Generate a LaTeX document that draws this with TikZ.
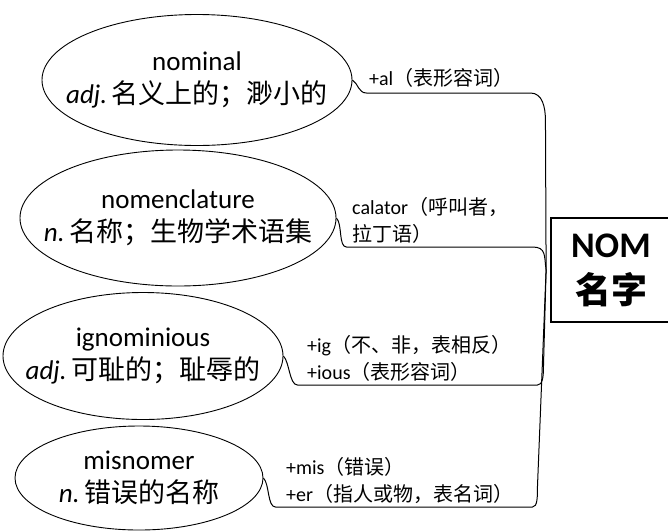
\documentclass[tikz,border=0pt]{standalone}
\usepackage{fontspec}
\setmainfont{Carlito}
\newfontfamily\cjk{Noto Sans CJK SC}
\usetikzlibrary{shapes.geometric}
\tikzset{
    wordnode/.style={ellipse, draw, line width=0.9pt, inner sep=0pt},
    wordtext/.style={align=center, inner sep=0pt, font=\fontsize{27}{33}\selectfont},
    rootbox/.style={rectangle, draw, line width=1.8pt, inner sep=0pt, align=center, font=\bfseries\fontsize{36}{46}\selectfont},
    partnote/.style={anchor=west, align=left, inner sep=0pt, font=\fontsize{20}{27}\selectfont},
    branch/.style={line width=1pt, line join=round},
}

\begin{document}
\begin{tikzpicture}[x=1pt, y=-1pt]
    \useasboundingbox (0,0) rectangle (668,531);

    % Radice (a destra)
    \node[rootbox, minimum width=120, minimum height=104] (root) at (611,270) {NOM\\{\cjk 名字}};
    \coordinate (hub) at ([xshift=-4pt]root.west);

    % Parole (ellissi)
    \node[wordnode, minimum width=310, minimum height=131] (nominal) at (197,80) {};
    \node[wordtext] (nominalTxt) at (nominal) {nominal\\\textit{adj.}\,{\cjk 名义上的；渺小的}};

    \node[wordnode, minimum width=316, minimum height=136] (nomencl) at (178,218) {};
    \node[wordtext] (nomenclTxt) at (nomencl) {nomenclature\\\textit{n.}\,{\cjk 名称；生物学术语集}};

    \node[wordnode, minimum width=280, minimum height=127] (ignomin) at (143,356) {};
    \node[wordtext] (ignominTxt) at (ignomin) {ignominious\\\textit{adj.}\,{\cjk 可耻的；耻辱的}};

    \node[wordnode, minimum width=248, minimum height=104] (misnomer) at (139,478) {};
    \node[wordtext] (misnomerTxt) at (misnomer) {misnomer\\\textit{n.}\,{\cjk 错误的名称}};

    % Note sulle parti
    \node[partnote] (alNote) at (369,78) {+al{\cjk （表形容词）}};
    \node[partnote] (calNote) at (352,220) {calator{\cjk （呼叫者，}\\{\cjk 拉丁语）}};
    \node[partnote] (igNote) at (307,358) {+ig{\cjk （不、非，表相反）}\\+ious{\cjk （表形容词）}};
    \node[partnote] (misNote) at (286,480) {+mis{\cjk （错误）}\\+er{\cjk （指人或物，表名词）}};

    % Rami verso la radice
    \draw[branch] (nominal.east) .. controls +(6,4) and +(-8,0) .. ++(14,13)
        -- ++(164,0) .. controls +(12,0) and +(0,-14) .. ++(15,28) -- (hub);
    \draw[branch] (nomencl.east) .. controls +(6,6) and +(-8,0) .. ++(10,29)
        -- ++(186,0) .. controls +(14,0) and +(-2,-14) .. (hub);
    \draw[branch] (ignomin.east) .. controls +(6,6) and +(-8,0) .. ++(14,29)
        -- ++(240,0) .. controls +(5,0) and +(0,10) .. ++(6,-18) -- (hub);
    \draw[branch] (misnomer.east) .. controls +(6,6) and +(-8,0) .. ++(12,29)
        -- ++(257,0) .. controls +(5,0) and +(0,10) .. ++(5,-20) -- (hub);
\end{tikzpicture}
\end{document}
